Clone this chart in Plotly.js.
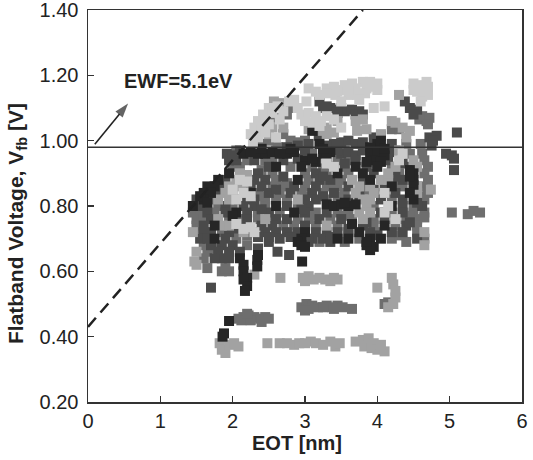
<!DOCTYPE html>
<html>
<head>
<meta charset="utf-8">
<script src="https://cdn.plot.ly/plotly-3.0.1.min.js"></script>
<style>html,body{margin:0;padding:0;background:#fff;}#chart{width:533px;height:460px;}</style>
</head>
<body>
<div id="chart"></div>
<script>
// Tick labels
const xTickVals = [0, 1, 2, 3, 4, 5, 6];
const yTickVals = [0.20, 0.40, 0.60, 0.80, 1.00, 1.20, 1.40];

// Titles
const xTitle = "EOT [nm]";
const yTitle = "Flatband Voltage, V<sub>fb</sub> [V]";

// Reference lines
const dashX = [0, 3.8];
const dashY = [0.43, 1.40];
const hLineY = 0.98;
const arrowX = [0.094, 0.554];
const arrowY = [0.989, 1.114];
const labelPos = [1.25, 1.184];
const labelText = "EWF=5.1eV";

// Measured points grouped by marker shade: [EOT nm, Vfb V]
const veryLight = [
 [3.8,1.18],[3.9,1.18],[4.0,1.175],[3.55,1.17],[3.65,1.175],[4.5,1.175],[4.6,1.17],[4.68,1.18],
 [3.05,1.16],[3.3,1.16],[3.4,1.165],[3.5,1.155],[3.7,1.16],[3.85,1.16],[4.0,1.155],[4.55,1.15],[4.65,1.155],
 [3.2,1.14],[3.3,1.145],[3.42,1.14],[3.6,1.14],[3.72,1.14],[3.83,1.145],[4.62,1.135],[4.7,1.14],
 [2.78,1.12],[2.85,1.125],[3.02,1.12],[3.5,1.12],[4.6,1.12],
 [2.5,1.10],[2.62,1.105],[2.7,1.09],[3.95,1.10],
 [2.42,1.08],[2.95,1.08],[3.05,1.085],[3.15,1.075],
 [2.35,1.06],[2.45,1.055],[3.0,1.06],[3.1,1.055],[3.22,1.06],
 [2.3,1.04],[2.4,1.035],[3.5,1.04],
 [2.25,1.02],[2.35,1.01],[2.28,0.995],
 [3.9,1.165],[3.6,1.155],[3.15,1.15],[3.45,1.15],[3.75,1.125],[2.9,1.10],[2.55,1.085],[2.65,1.065],
 [2.5,1.05],[3.3,1.075],[3.4,1.065],[4.1,1.105],[4.5,1.155],[4.7,1.165],[3.2,1.045],[2.45,1.025],[2.6,1.01],
 [2.1,0.88],[2.2,0.875],[2.0,0.85],[2.15,0.84],[2.05,0.82],[2.25,0.83],
 [2.15,0.73],[2.25,0.735],[2.3,0.72],[2.05,0.745],
 [3.3,0.93],[3.4,0.92],
 [4.1,0.84],[4.15,0.80],[4.1,0.78],[4.25,0.76],
 [4.35,0.96],[4.3,0.94]
];
const light = [
 [2.57,1.12],[2.65,1.115],[4.3,1.14],[3.45,1.06],[3.7,1.06],[3.8,1.065],[4.2,1.06],[4.25,1.055],
 [2.55,1.04],[2.7,1.04],[3.05,1.035],[3.3,1.04],[3.85,1.035],[3.72,1.03],[2.5,1.02],[3.3,1.02],
 [3.4,1.025],[4.4,1.01],[4.05,1.02],[3.25,1.03],[4.35,1.04],[4.45,1.03],
 [4.3,0.97],[4.25,0.92],[4.5,0.94],[4.55,0.92],[2.1,0.90],[2.2,0.895],[2.05,0.88],[2.15,0.87],
 [1.95,0.86],[2.1,0.86],[1.9,0.84],[2.0,0.84],[1.8,0.82],[1.95,0.82],[2.9,0.82],[3.65,0.88],
 [3.75,0.86],[3.9,0.86],[3.7,0.84],[3.95,0.84],[3.8,0.82],[3.9,0.82],[3.85,0.80],[3.75,0.78],
 [3.9,0.78],[3.8,0.76],[4.05,0.88],[4.15,0.88],[4.15,0.90],[4.55,0.86],[4.55,0.84],[1.8,0.76],
 [2.45,0.76],[1.85,0.74],[1.95,0.74],[3.3,0.74],[2.15,0.72],[1.45,0.72],[4.65,0.72],[4.65,0.68],
 [4.74,0.85],
 [1.47,0.63],[1.5,0.62],[1.5,0.66],[2.3,0.59],
 [2.66,0.58],[2.97,0.58],[3.05,0.585],[3.12,0.575],[3.2,0.58],[3.28,0.575],[3.35,0.57],[3.45,0.575],
 [3.0,0.57],[3.4,0.58],
 [4.0,0.55],[4.2,0.58],[4.22,0.56],[4.25,0.54],[4.25,0.52],[4.22,0.50],[4.15,0.49],
 [1.82,0.38],[1.85,0.36],[1.9,0.35],[1.95,0.375],[2.02,0.38],[2.08,0.37],[2.48,0.38],[2.65,0.38],
 [2.75,0.38],[2.85,0.375],[2.92,0.38],[3.0,0.38],[3.08,0.385],[3.15,0.38],[3.25,0.375],[3.35,0.385],
 [3.42,0.37],[3.48,0.38],[3.7,0.385],[3.8,0.39],[3.88,0.395],[3.95,0.38],[3.82,0.37],[3.92,0.365],
 [4.0,0.36],[4.1,0.355],[4.05,0.375]
];
const medium = [
 [2.75,1.08],[2.8,1.10],[2.57,1.07],[4.58,1.065],[4.68,1.06],[4.62,1.075],[4.2,1.035],[4.3,1.035],
 [4.72,1.07],[4.7,1.05],
 [2.7,1.02],[2.62,0.98],
 [2.8,1.00],[2.9,0.995],[3.0,1.00],[4.6,0.99],[2.4,0.99],[2.5,1.00],
 [3.1,0.96],[4.45,0.96],[4.62,0.96],[2.05,0.97],
 [2.2,0.94],[2.45,0.94],[2.55,0.945],[3.45,0.94],[3.6,0.94],[4.65,0.94],
 [2.0,0.92],[2.1,0.92],[2.8,0.92],[3.1,0.92],[3.25,0.915],[3.55,0.92],[4.2,0.92],[4.7,0.92],
 [2.55,0.90],[3.0,0.90],[3.3,0.90],[3.6,0.90],[4.3,0.90],[4.65,0.90],
 [2.6,0.88],[3.05,0.88],[3.5,0.88],[4.7,0.88],
 [2.55,0.86],[2.7,0.86],[3.0,0.86],[3.3,0.86],[3.45,0.86],[4.35,0.86],[4.62,0.86],
 [2.35,0.84],[2.65,0.84],[2.95,0.84],[3.25,0.84],[3.55,0.84],[3.85,0.84],[4.7,0.84],
 [1.7,0.82],[2.05,0.82],[2.45,0.82],[2.6,0.82],[2.75,0.82],[3.3,0.82],[3.45,0.82],[4.2,0.82],[4.65,0.82],
 [1.65,0.80],[1.8,0.80],[2.0,0.80],[2.45,0.80],[2.9,0.80],[3.95,0.80],[4.5,0.80],
 [1.45,0.78],[1.55,0.78],[1.75,0.78],[2.35,0.78],[2.65,0.78],[3.15,0.78],[3.45,0.78],[3.6,0.78],
 [4.2,0.78],[4.5,0.78],[4.65,0.78],[5.03,0.78],[5.25,0.775],[5.33,0.785],[5.42,0.78],
 [1.5,0.76],[1.6,0.76],[1.95,0.76],[2.1,0.76],[2.35,0.76],[2.9,0.76],[3.05,0.76],[3.35,0.76],
 [3.65,0.76],[3.95,0.76],[4.25,0.76],[4.4,0.76],[4.55,0.76],[4.65,0.765],
 [1.5,0.74],[2.7,0.74],[2.85,0.74],[3.15,0.74],[3.45,0.74],[3.95,0.74],[4.25,0.74],[4.55,0.74],
 [1.85,0.72],[4.0,0.72],[4.55,0.72],
 [2.05,0.70],[3.75,0.70],[4.2,0.70],[4.65,0.70],
 [1.6,0.68],[2.2,0.68],[1.65,0.66],[1.6,0.64],[1.65,0.61],
 [1.85,0.60],[1.95,0.60],[1.9,0.61],
 [2.2,0.87],[2.75,0.87],[3.4,0.87],[3.85,0.87],[4.25,0.87],[2.4,0.83],[3.0,0.83],[3.5,0.83],
 [4.6,0.83],[2.5,0.77],[3.1,0.77],[3.55,0.77],[4.45,0.77],[2.2,0.71],[2.85,0.71],[4.3,0.71],
 [2.6,0.97],[3.55,0.97],[4.4,0.99],[2.4,0.91],[3.9,0.93],[1.55,0.73],[1.75,0.67],[3.2,0.69],
 [3.55,0.69],[4.4,0.69],
 [2.95,0.49],[3.02,0.50],[3.1,0.495],[3.18,0.49],[3.25,0.49],[3.3,0.495],[3.38,0.49],[3.45,0.495],
 [3.52,0.49],[3.05,0.485],[3.4,0.485],[3.65,0.485],[3.0,0.48],
 [2.08,0.455],[2.15,0.46],[2.22,0.465],[2.3,0.46],[2.38,0.455],[2.45,0.46],[2.5,0.455],[2.12,0.45],
 [2.25,0.45],[2.4,0.445],[2.2,0.47],
 [4.1,0.50],[4.15,0.505]
];
const dark = [
 [3.2,1.12],[3.25,1.10],[3.35,1.10],[3.45,1.095],[3.55,1.09],[3.65,1.095],[3.75,1.09],[3.3,1.105],
 [3.5,1.10],[3.7,1.08],[3.8,1.08],[4.45,1.10],[4.55,1.095],[4.38,1.12],[4.5,1.08],[3.45,1.085],
 [3.19,1.015],[3.95,1.01],[4.05,1.015],[4.72,1.01],[4.82,1.015],[4.77,1.0],[5.1,1.025],[2.9,0.985],
 [3.05,0.99],[3.4,0.99],[3.5,0.995],[3.6,1.0],[3.7,0.99],[3.8,0.995],[4.2,0.99],[4.75,0.985],
 [2.75,0.98],[3.3,0.985],
 [1.92,0.96],[3.5,0.96],[3.6,0.965],[3.7,0.955],[4.95,0.96],[5.03,0.955],[5.06,0.945],[4.2,0.965],
 [1.95,0.94],[2.05,0.94],[2.3,0.94],[2.7,0.94],[2.9,0.945],[3.7,0.94],[4.15,0.94],
 [2.5,0.92],[3.4,0.92],[3.85,0.92],[4.45,0.92],[5.06,0.91],
 [2.35,0.90],[3.15,0.90],[3.95,0.90],
 [1.9,0.88],[2.3,0.88],[2.45,0.88],[3.2,0.88],[3.35,0.88],[3.8,0.88],[4.35,0.88],
 [1.85,0.86],[2.25,0.86],[2.4,0.86],[2.85,0.86],[3.15,0.86],[3.6,0.86],[4.1,0.86],
 [1.8,0.84],[2.5,0.84],[2.8,0.84],[3.1,0.84],[3.4,0.84],[4.25,0.84],
 [1.5,0.82],[2.2,0.82],[2.3,0.82],[3.0,0.82],[3.15,0.82],[3.6,0.82],[4.05,0.82],[4.35,0.82],
 [1.55,0.80],[1.9,0.80],[2.15,0.80],[2.3,0.80],[2.75,0.80],[3.05,0.80],[4.35,0.80],[4.62,0.80],
 [1.65,0.78],[1.9,0.78],[2.2,0.78],[2.5,0.78],[3.0,0.78],[3.3,0.78],[4.05,0.78],[4.35,0.78],
 [1.7,0.76],[2.2,0.76],[2.6,0.76],[2.75,0.76],[3.2,0.76],[3.5,0.76],[4.1,0.76],
 [1.6,0.74],[2.4,0.74],[2.55,0.74],[3.0,0.74],[3.8,0.74],[4.4,0.74],
 [1.6,0.72],[1.7,0.72],[1.95,0.72],[2.3,0.72],[2.45,0.72],[2.6,0.72],[2.75,0.72],[2.9,0.72],
 [3.15,0.72],[3.3,0.72],[3.45,0.72],[3.6,0.72],[3.9,0.72],[4.2,0.72],[4.35,0.72],
 [1.55,0.70],[1.65,0.70],[1.9,0.70],[2.35,0.705],[2.5,0.705],[2.65,0.70],[2.8,0.705],[3.1,0.70],
 [3.25,0.70],[4.55,0.70],[3.35,0.705],
 [1.7,0.68],[1.85,0.68],[2.0,0.68],
 [1.8,0.66],[1.95,0.66],[2.1,0.66],[2.62,0.66],[2.78,0.65],
 [1.85,0.64],[1.95,0.64],[1.7,0.55],
 [2.1,0.89],[2.7,0.89],[3.25,0.89],[4.25,0.89],[2.6,0.85],[3.25,0.83],[3.75,0.83],[2.4,0.79],
 [2.95,0.79],[3.85,0.75],[4.45,0.75],[2.05,0.73],[3.6,0.73],[4.0,0.71],[3.05,0.69],[2.5,0.69],
 [2.35,0.67],[3.35,0.69],[1.75,0.64],[2.1,0.97],[3.45,0.97],[3.8,0.97],[4.25,0.97],[3.0,0.97],
 [2.0,0.955],[3.55,0.93],[4.35,0.93],[3.95,0.85],[4.55,0.81]
];
const black = [
 [3.1,1.03],
 [3.2,0.99],[4.0,0.99],[4.05,1.0],[3.9,0.98],
 [2.15,0.96],[2.25,0.965],[2.35,0.96],[2.45,0.96],[2.55,0.965],[2.65,0.96],[2.75,0.96],[2.85,0.965],
 [3.25,0.96],[3.35,0.965],[3.9,0.96],[4.0,0.965],[4.1,0.955],
 [3.0,0.94],[3.15,0.935],[3.3,0.945],[3.95,0.94],[4.05,0.935],
 [2.6,0.92],[2.95,0.92],[3.7,0.92],[4.0,0.92],
 [1.95,0.90],[3.45,0.90],[3.8,0.90],[4.5,0.90],[4.45,0.91],
 [1.8,0.88],[2.9,0.88],[3.9,0.88],[4.5,0.88],
 [1.65,0.86],[1.75,0.86],[4.2,0.86],[4.5,0.865],
 [1.6,0.84],[1.7,0.84],[2.25,0.84],[4.1,0.84],[4.45,0.84],
 [1.6,0.82],[4.5,0.82],
 [1.45,0.80],[2.6,0.80],[3.3,0.805],[3.4,0.80],[3.5,0.805],[3.6,0.80],[3.7,0.805],[4.2,0.80],
 [2.05,0.78],[2.85,0.78],
 [1.75,0.74],[3.65,0.745],[4.1,0.74],
 [3.0,0.72],[3.75,0.72],
 [1.75,0.70],[2.95,0.70],[3.45,0.70],[3.6,0.70],[3.9,0.70],[4.05,0.70],[2.9,0.69],
 [2.95,0.68],[3.0,0.675],[3.85,0.68],[3.95,0.675],[3.9,0.665],
 [2.1,0.64],[2.34,0.635],[2.34,0.615],[2.96,0.63],
 [2.15,0.62],[2.15,0.60],[2.2,0.58],[2.15,0.575],[2.2,0.555],[2.17,0.54],
 [2.4,0.975],[2.8,0.975],[3.25,0.975],[4.1,0.975],[3.1,0.945],[3.85,0.935],[1.55,0.83],[1.65,0.81],
 [2.0,0.77],[3.55,0.81],[3.85,0.69],[2.35,0.65],[4.45,0.89],
 [1.95,0.448],[1.86,0.40],[1.88,0.41]
];

const groups = [
  {name: "medium", pts: medium, color: "#6e6e6e"},
  {name: "dark", pts: dark, color: "#4a4a4a"},
  {name: "light", pts: light, color: "#a2a2a2"},
  {name: "black", pts: black, color: "#262626"},
  {name: "veryLight", pts: veryLight, color: "#cbcbcb"}
];

const FONT = "Arial, 'Liberation Sans', Helvetica, sans-serif";

const traces = groups.map(g => ({
  type: "scatter",
  mode: "markers",
  name: g.name,
  x: g.pts.map(p => p[0]),
  y: g.pts.map(p => p[1]),
  marker: {symbol: "square", size: 10, color: g.color, line: {width: 0}},
  hoverinfo: "skip"
}));

// Arrow next to the EWF label
traces.push({
  type: "scatter", mode: "lines+markers", name: "arrow",
  x: arrowX, y: arrowY,
  line: {color: "#222", width: 1.6},
  marker: {symbol: ["circle", "arrow"], size: [0, 15], color: "#222", angleref: "previous", line: {width: 0}},
  hoverinfo: "skip", cliponaxis: false
});

const layout = {
  width: 533, height: 460,
  margin: {l: 88, r: 11, t: 10, b: 58},
  paper_bgcolor: "#fff", plot_bgcolor: "#fff",
  showlegend: false,
  font: {family: FONT, color: "#222", size: 20},
  xaxis: {
    range: [0, 6], tickvals: xTickVals, ticktext: xTickVals.map(String),
    ticks: "inside", ticklen: 6, tickwidth: 1.5, tickcolor: "#333",
    showline: true, linecolor: "#333", linewidth: 1.5, mirror: true,
    showgrid: false, zeroline: false,
    tickfont: {family: FONT, size: 20, color: "#222"},
    ticklabeloverflow: "allow"
  },
  yaxis: {
    range: [0.2, 1.4], tickvals: yTickVals, ticktext: yTickVals.map(v => v.toFixed(2)),
    ticks: "inside", ticklen: 6, tickwidth: 1.5, tickcolor: "#333",
    showline: true, linecolor: "#333", linewidth: 1.5, mirror: true,
    showgrid: false, zeroline: false,
    tickfont: {family: FONT, size: 20, color: "#222"},
    ticklabelstandoff: 4,
    ticklabeloverflow: "allow"
  },
  shapes: [
    {type: "line", xref: "x", yref: "y", x0: dashX[0], y0: dashY[0], x1: dashX[1], y1: dashY[1],
     line: {color: "#222", width: 2.5, dash: "12px,7px"}},
    {type: "line", xref: "x", yref: "y", x0: 0, y0: hLineY, x1: 6, y1: hLineY,
     line: {color: "#333", width: 1.5}}
  ],
  annotations: [
    {xref: "paper", yref: "paper", x: 0.4816, y: -0.1046, text: "<b>" + xTitle + "</b>",
     showarrow: false, xanchor: "center", yanchor: "middle", font: {family: FONT, size: 20, color: "#222"}},
    {xref: "paper", yref: "paper", x: -0.1636, y: 0.4566, text: "<b>" + yTitle + "</b>", textangle: -90,
     showarrow: false, xanchor: "center", yanchor: "middle", font: {family: FONT, size: 21, color: "#222"}},
    {xref: "x", yref: "y", x: labelPos[0], y: labelPos[1], text: "<b>" + labelText + "</b>",
     showarrow: false, font: {family: FONT, size: 20, color: "#222"}}
  ]
};

Plotly.newPlot("chart", traces, layout, {displayModeBar: false, staticPlot: true});
</script>
</body>
</html>
